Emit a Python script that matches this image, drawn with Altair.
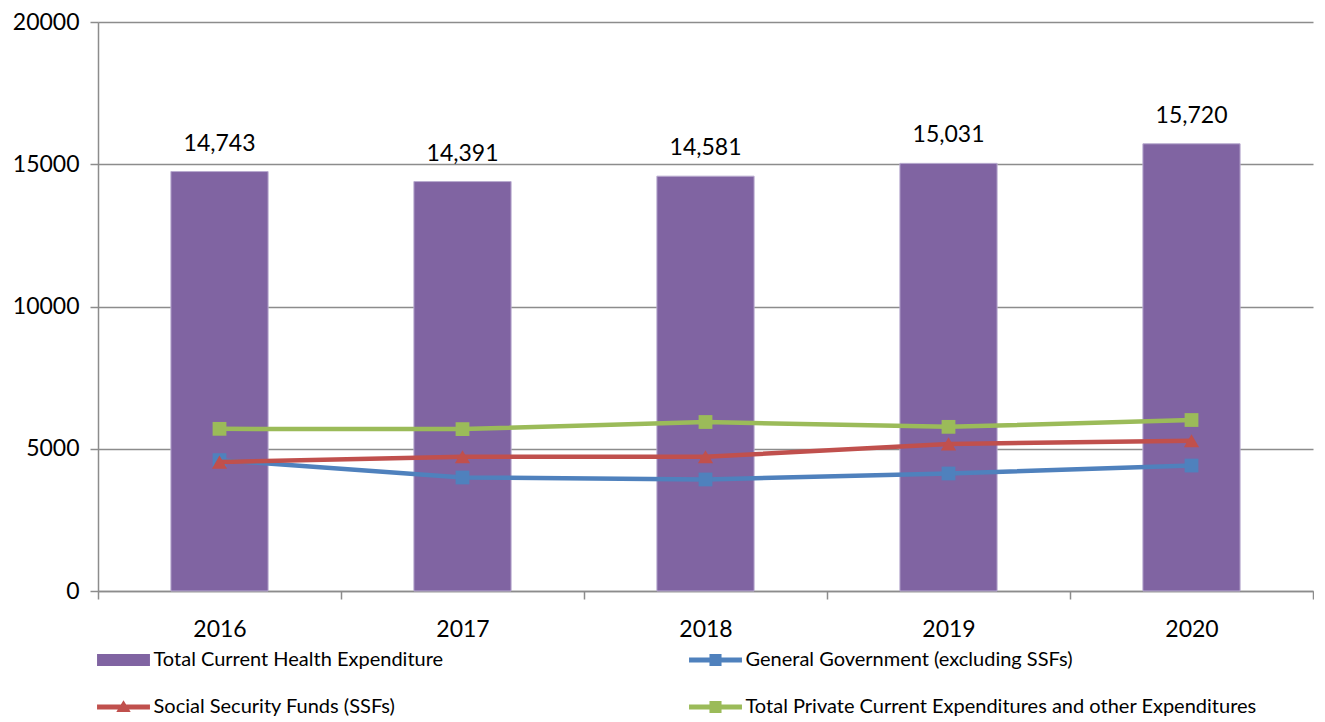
import altair as alt
import pandas as pd

years = ["2016", "2017", "2018", "2019", "2020"]
series_names = [
    "Total Current Health Expenditure",
    "General Government (excluding SSFs)",
    "Social Security Funds (SSFs)",
    "Total Private Current Expenditures and other Expenditures",
]
total_che = [14743, 14391, 14581, 15031, 15720]
general_gov = [4600, 3990, 3920, 4130, 4410]
ssf = [4530, 4720, 4720, 5170, 5280]
private_exp = [5700, 5690, 5940, 5770, 6010]

colors = ["#8064A2", "#4F81BD", "#C0504D", "#9BBB59"]
FONT = "Lato"
GRID = "#8c8c8c"

# legend symbols: bar swatch, and line+marker swatches (custom SVG paths)
legend_shapes = [
    "M-2.94,-0.67H2.94V0.67H-2.94Z",
    "M-2.94,-0.28H2.94V0.28H-2.94Z M-0.67,-0.67H0.67V0.67H-0.67Z",
    "M-2.94,-0.28H2.94V0.28H-2.94Z M-0.8,0.55L0,-0.75L0.8,0.55Z",
    "M-2.94,-0.28H2.94V0.28H-2.94Z M-0.67,-0.67H0.67V0.67H-0.67Z",
]

values_by_series = [total_che, general_gov, ssf, private_exp]
rows = []
for s, vals in zip(series_names, values_by_series):
    for y, v in zip(years, vals):
        rows.append({"year": y, "series": s, "value": v})
df = pd.DataFrame(rows)

x_enc = alt.X(
    "year:N",
    title=None,
    scale=alt.Scale(paddingInner=0, paddingOuter=0),
    axis=alt.Axis(
        labelAngle=0, labelFont=FONT, labelFontSize=23, labelColor="#000000",
        tickBand="extent", tickSize=8, tickColor=GRID, tickWidth=1.5,
        domainColor=GRID, domainWidth=1.5, labelPadding=19, grid=False,
    ),
)
y_enc = alt.Y(
    "value:Q",
    title=None,
    scale=alt.Scale(domain=[0, 20000], nice=False),
    axis=alt.Axis(
        values=[0, 5000, 10000, 15000, 20000], format="d",
        labelFont=FONT, labelFontSize=23, labelColor="#000000",
        tickSize=8, tickColor=GRID, tickWidth=1.5,
        domainColor=GRID, domainWidth=1.5, labelPadding=11,
        grid=True, gridColor=GRID, gridWidth=1.5,
    ),
)

base = alt.Chart(df)

bars = base.transform_filter(
    alt.datum.series == series_names[0]
).mark_bar(
    color=colors[0], stroke="#b9acd0", strokeWidth=1, width={"band": 0.4}
).encode(x=x_enc, y=y_enc)

bar_labels = base.transform_filter(
    alt.datum.series == series_names[0]
).mark_text(font=FONT, fontSize=23, color="#000000", dy=-28, baseline="middle").encode(
    x="year:N", y="value:Q", text=alt.Text("value:Q", format=",")
)

layers = [bars, bar_labels]
marker_shapes = [None, "square", "triangle-up", "square"]
for i in range(1, 4):
    sub = base.transform_filter(alt.datum.series == series_names[i])
    line = sub.mark_line(color=colors[i], strokeWidth=4.5).encode(x="year:N", y="value:Q")
    pts = sub.mark_point(
        shape=marker_shapes[i], filled=True, color=colors[i], opacity=1,
        size=190 if marker_shapes[i] == "square" else 230,
    ).encode(x="year:N", y="value:Q")
    layers += [line, pts]

legend_def = alt.Legend(
    title=None, orient="none", legendX=15.5, legendY=628, columns=2,
    direction="horizontal", columnPadding=245, rowPadding=27,
    symbolSize=324, symbolStrokeWidth=0,
    labelFont=FONT, labelFontSize=20, labelColor="#000000", labelOffset=20,
    labelLimit=0,
)

legend_layer = base.transform_filter("false").mark_point(filled=True, opacity=1).encode(
    x="year:N",
    y="value:Q",
    color=alt.Color(
        "series:N",
        scale=alt.Scale(domain=series_names, range=colors),
        legend=legend_def,
    ),
    shape=alt.Shape(
        "series:N",
        scale=alt.Scale(domain=series_names, range=legend_shapes),
        legend=legend_def,
    ),
)
layers.append(legend_layer)

chart = alt.layer(*layers).properties(
    width=1215, height=569,
    padding={"left": 4, "top": 3, "right": 0, "bottom": 0},
    background="#ffffff",
).configure_view(stroke=None)

chart.save("out.html", embed_options={"renderer": "svg", "actions": False})
